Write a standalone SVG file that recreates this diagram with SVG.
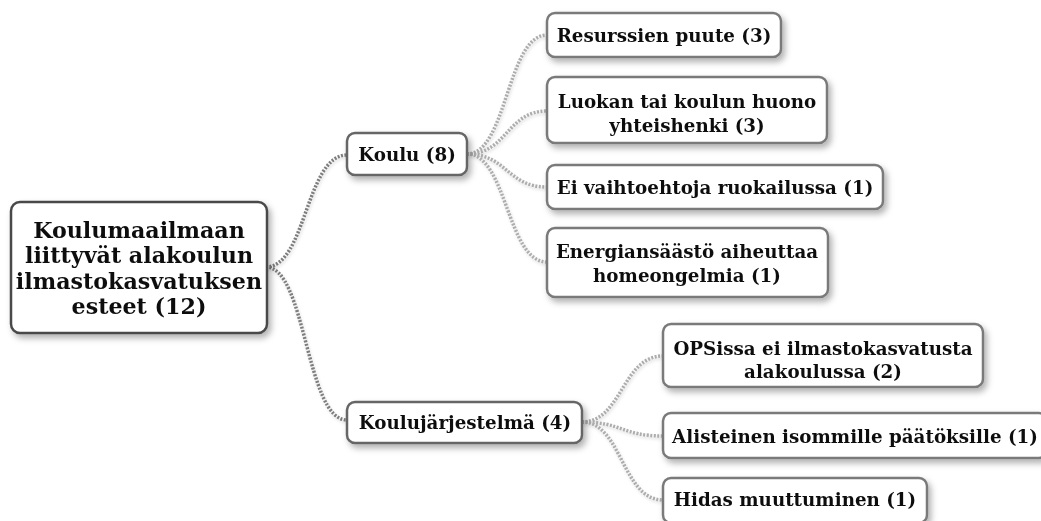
<svg xmlns="http://www.w3.org/2000/svg" width="1041" height="521" viewBox="0 0 1041 521">
<defs>
<filter id="sh" x="-10%" y="-20%" width="130%" height="160%">
<feDropShadow dx="3" dy="4" stdDeviation="3" flood-color="#000" flood-opacity="0.3"/>
</filter>
<filter id="lsh" x="-10%" y="-10%" width="130%" height="130%">
<feDropShadow dx="1" dy="2" stdDeviation="1.5" flood-color="#000" flood-opacity="0.15"/>
</filter>
</defs>
<style>
.box{fill:#fff;stroke:#7a7a7a;stroke-width:2.5}
.root{fill:#fff;stroke:#4a4a4a;stroke-width:2.5}
.mid{fill:#fff;stroke:#666;stroke-width:2.5}
text{font-family:"DejaVu Serif","Liberation Serif",serif;font-weight:bold;fill:#111;text-anchor:middle}
.t{font-size:18.3px}
.tr{font-size:22.2px}
.c1{fill:none;stroke:#7d7d7d;stroke-width:3.5;stroke-dasharray:2 1.5}
.c2{fill:none;stroke:#adadad;stroke-width:3.5;stroke-dasharray:2 1.5}
</style>
<rect width="1041" height="521" fill="#fff"/>
<g id="connectors" filter="url(#lsh)">
<path class="c1" d="M266 267 C306 267 306 155 347 155"/>
<path class="c1" d="M266 267 C306 267 306 420 347 420"/>
<path class="c2" d="M467 154 C507 154 507 35 547 35"/>
<path class="c2" d="M467 154 C507 154 507 111 547 111"/>
<path class="c2" d="M467 154 C507 154 507 187 547 187"/>
<path class="c2" d="M467 154 C507 154 507 262 547 262"/>
<path class="c2" d="M582 422 C622 422 622 356 663 356"/>
<path class="c2" d="M582 422 C622 422 622 436 663 436"/>
<path class="c2" d="M582 422 C622 422 622 500 663 500"/>
</g>
<g id="root" filter="url(#sh)">
<rect class="root" x="11" y="202" width="256" height="131" rx="9"/>
<text class="tr" x="139" y="238">Koulumaailmaan</text>
<text class="tr" x="139" y="263">liittyvät alakoulun</text>
<text class="tr" x="139" y="289">ilmastokasvatuksen</text>
<text class="tr" x="139" y="314">esteet (12)</text>
</g>
<g id="koulu" filter="url(#sh)">
<rect class="mid" x="347" y="133" width="120" height="42" rx="8"/>
<text class="t" x="407" y="161">Koulu (8)</text>
</g>
<g id="koulujarjestelma" filter="url(#sh)">
<rect class="mid" x="347" y="402" width="235" height="41" rx="8"/>
<text class="t" x="465" y="429">Koulujärjestelmä (4)</text>
</g>
<g id="resurssit" filter="url(#sh)">
<rect class="box" x="547" y="13" width="234" height="44" rx="8"/>
<text class="t" x="664" y="42">Resurssien puute (3)</text>
</g>
<g id="yhteishenki" filter="url(#sh)">
<rect class="box" x="547" y="77" width="280" height="66" rx="8"/>
<text class="t" x="687" y="108">Luokan tai koulun huono</text>
<text class="t" x="687" y="132">yhteishenki (3)</text>
</g>
<g id="ruokailu" filter="url(#sh)">
<rect class="box" x="547" y="165" width="336" height="44" rx="8"/>
<text class="t" x="715" y="194">Ei vaihtoehtoja ruokailussa (1)</text>
</g>
<g id="energia" filter="url(#sh)">
<rect class="box" x="547" y="228" width="281" height="69" rx="8"/>
<text class="t" x="687" y="258">Energiansäästö aiheuttaa</text>
<text class="t" x="687" y="282">homeongelmia (1)</text>
</g>
<g id="ops" filter="url(#sh)">
<rect class="box" x="663" y="324" width="320" height="63" rx="8"/>
<text class="t" x="823" y="355">OPSissa ei ilmastokasvatusta</text>
<text class="t" x="823" y="378">alakoulussa (2)</text>
</g>
<g id="alisteinen" filter="url(#sh)">
<rect class="box" x="663" y="413" width="384" height="45" rx="8"/>
<text class="t" x="855" y="443">Alisteinen isommille päätöksille (1)</text>
</g>
<g id="hidas" filter="url(#sh)">
<rect class="box" x="663" y="478" width="264" height="45" rx="8"/>
<text class="t" x="795" y="506">Hidas muuttuminen (1)</text>
</g>
</svg>
